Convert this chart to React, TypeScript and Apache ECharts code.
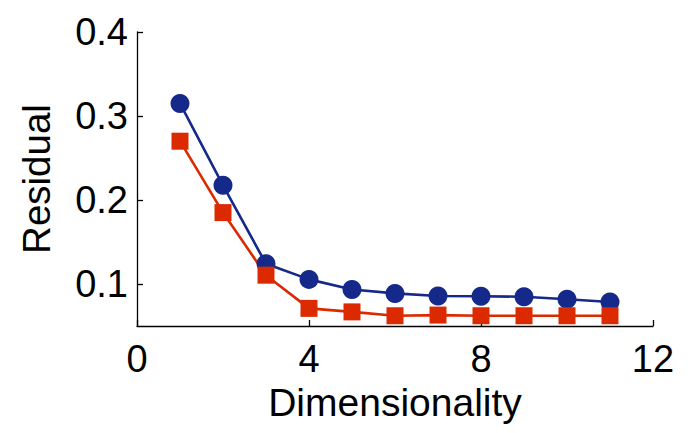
import React, { useEffect, useRef } from "react";
import * as echarts from "echarts";

const dims = [1, 2, 3, 4, 5, 6, 7, 8, 9, 10, 11];
const blueValues = [0.315, 0.2175, 0.124, 0.1055, 0.0935, 0.0888, 0.0857, 0.0855, 0.0848, 0.0818, 0.0786];
const redValues = [0.27, 0.185, 0.1105, 0.071, 0.0668, 0.0622, 0.063, 0.0622, 0.0622, 0.0622, 0.0622];
const yTicks = [0.1, 0.2, 0.3, 0.4];
const xTicks = [0, 4, 8, 12];

const FONT = "'Liberation Sans', Arial, Helvetica, sans-serif";

export default function App() {
  const ref = useRef<HTMLDivElement>(null);
  useEffect(() => {
    if (!ref.current) return;
    const chart = echarts.init(ref.current, undefined, { renderer: "svg" });
    const axisLine = { show: true, lineStyle: { color: "#000", width: 1.3 } };
    chart.setOption({
      animation: false,
      backgroundColor: "#fff",
      grid: { left: 137, right: 39, top: 32, bottom: 107, containLabel: false },
      xAxis: {
        type: "value",
        min: 0,
        max: 12,
        interval: 4,
        name: "Dimensionality",
        nameLocation: "middle",
        nameGap: 51,
        nameTextStyle: { fontFamily: FONT, fontSize: 39, color: "#000" },
        axisLine,
        axisTick: { show: true, inside: true, length: 6, lineStyle: { color: "#000", width: 1.3 }, customValues: xTicks },
        axisLabel: { fontFamily: FONT, fontSize: 38, color: "#000", margin: 14, customValues: xTicks },
        splitLine: { show: false },
      },
      yAxis: {
        type: "value",
        min: 0.05,
        max: 0.4,
        name: "Residual",
        nameLocation: "middle",
        nameGap: 81,
        nameRotate: 90,
        nameTextStyle: { fontFamily: FONT, fontSize: 38.5, color: "#000" },
        axisLine,
        axisTick: { show: true, inside: true, length: 6, lineStyle: { color: "#000", width: 1.3 }, customValues: yTicks },
        axisLabel: { fontFamily: FONT, fontSize: 38, color: "#000", margin: 9, customValues: yTicks, formatter: (v: number) => v.toFixed(1) },
        splitLine: { show: false },
      },
      series: [
        {
          type: "line",
          data: dims.map((d, i) => [d, blueValues[i]]),
          symbol: "circle",
          symbolSize: 19,
          lineStyle: { color: "#14298a", width: 2.6 },
          itemStyle: { color: "#14298a" },
        },
        {
          type: "line",
          data: dims.map((d, i) => [d, redValues[i]]),
          symbol: "rect",
          symbolSize: 17,
          lineStyle: { color: "#dc2a00", width: 2.6 },
          itemStyle: { color: "#dc2a00" },
        },
      ],
    });
    return () => chart.dispose();
  }, []);
  return <div ref={ref} style={{ width: 692, height: 433, position: "absolute", left: 0, top: 0 }} />;
}
